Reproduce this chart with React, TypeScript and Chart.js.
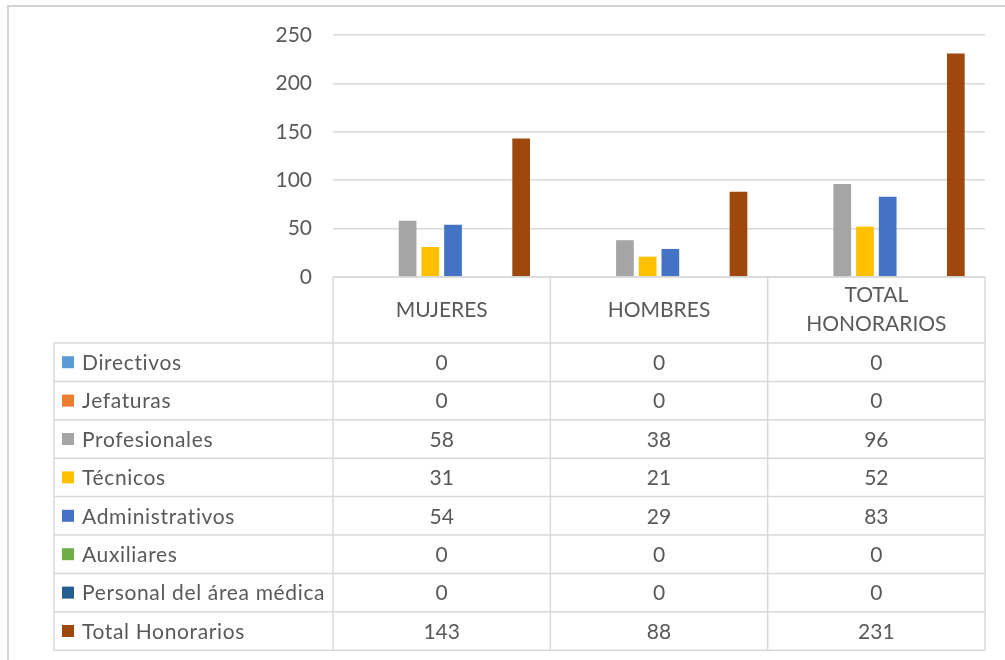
import React, { useEffect, useRef } from "react";
import { Chart, registerables } from "chart.js";

Chart.register(...registerables);

const categories = ["MUJERES", "HOMBRES", "TOTAL HONORARIOS"];
const headerLines = [["MUJERES"], ["HOMBRES"], ["TOTAL", "HONORARIOS"]];
const seriesNames = [
  "Directivos",
  "Jefaturas",
  "Profesionales",
  "Técnicos",
  "Administrativos",
  "Auxiliares",
  "Personal del área médica",
  "Total Honorarios",
];
const directivos = [0, 0, 0];
const jefaturas = [0, 0, 0];
const profesionales = [58, 38, 96];
const tecnicos = [31, 21, 52];
const administrativos = [54, 29, 83];
const auxiliares = [0, 0, 0];
const personalMedico = [0, 0, 0];
const totalHonorarios = [143, 88, 231];
const yTicks = [0, 50, 100, 150, 200, 250];
const seriesColors = [
  "#5B9BD5",
  "#ED7D31",
  "#A5A5A5",
  "#FFC000",
  "#4472C4",
  "#70AD47",
  "#255E91",
  "#9E480E",
];

const FONT = "Lato, 'Open Sans', sans-serif";
const TEXT = "#595959";
const LINE = "#d9d9d9";

const tablePlugin = {
  id: "dataTable",
  beforeDraw(chart: any) {
    const ctx = chart.ctx;
    ctx.save();
    ctx.fillStyle = "#ffffff";
    ctx.fillRect(0, 0, chart.width, chart.height);
    ctx.strokeStyle = "#d4d4d4";
    ctx.lineWidth = 2;
    ctx.beginPath();
    ctx.moveTo(8, chart.height);
    ctx.lineTo(8, 6);
    ctx.lineTo(chart.width, 6);
    ctx.stroke();
    ctx.restore();
  },
  afterDraw(chart: any) {
    const ctx = chart.ctx;
    const area = chart.chartArea;
    const n = categories.length;
    const colW = (area.right - area.left) / n;
    const headerTop = area.bottom;
    const headerBottom = headerTop + 66;
    const rowH = 38.4;
    const tableLeft = 54;
    const rows = chart.data.datasets.length;
    const tableBottom = headerBottom + rows * rowH;

    ctx.save();
    ctx.strokeStyle = LINE;
    ctx.lineWidth = 1.5;
    ctx.beginPath();
    ctx.moveTo(area.left, headerTop);
    ctx.lineTo(area.right, headerTop);
    for (let r = 0; r <= rows; r++) {
      const y = headerBottom + r * rowH;
      ctx.moveTo(tableLeft, y);
      ctx.lineTo(area.right, y);
    }
    for (let c = 0; c <= n; c++) {
      const x = area.left + c * colW;
      ctx.moveTo(x, headerTop);
      ctx.lineTo(x, tableBottom);
    }
    ctx.moveTo(tableLeft, headerBottom);
    ctx.lineTo(tableLeft, tableBottom);
    ctx.stroke();

    ctx.fillStyle = TEXT;
    ctx.font = `21px ${FONT}`;
    ctx.textBaseline = "middle";
    ctx.textAlign = "center";
    const xs = chart.scales.x;
    for (let c = 0; c < n; c++) {
      const cx = xs.getPixelForValue(c);
      const lines = headerLines[c];
      const lh = 29;
      const mid = (headerTop + headerBottom) / 2;
      lines.forEach((t, i) => {
        ctx.fillText(t, cx, mid + (i - (lines.length - 1) / 2) * lh);
      });
    }
    chart.data.datasets.forEach((ds: any, r: number) => {
      const cy = headerBottom + r * rowH + rowH / 2;
      ctx.fillStyle = ds.backgroundColor;
      ctx.fillRect(62, cy - 6, 12, 12);
      ctx.fillStyle = TEXT;
      ctx.textAlign = "left";
      ctx.letterSpacing = "0.65px";
      ctx.fillText(ds.label, 82, cy + 1);
      ctx.letterSpacing = "0px";
      ctx.textAlign = "center";
      ds.data.forEach((v: number, c: number) => {
        ctx.fillText(String(v), xs.getPixelForValue(c), cy + 1);
      });
    });
    ctx.restore();
  },
};

export default function App() {
  const ref = useRef<HTMLCanvasElement>(null);
  useEffect(() => {
    if (!ref.current) return;
    const values = [
      directivos,
      jefaturas,
      profesionales,
      tecnicos,
      administrativos,
      auxiliares,
      personalMedico,
      totalHonorarios,
    ];
    const chart = new Chart(ref.current, {
      type: "bar",
      data: {
        labels: categories,
        datasets: seriesNames.map((name, i) => ({
          label: name,
          data: values[i],
          backgroundColor: seriesColors[i],
          borderWidth: 0,
          barPercentage: 0.78,
          categoryPercentage: 0.836,
        })),
      },
      options: {
        animation: false,
        responsive: true,
        maintainAspectRatio: false,
        layout: { padding: { top: 35, bottom: 383, right: 20, left: 0 } },
        plugins: { legend: { display: false }, tooltip: { enabled: false } },
        scales: {
          x: { display: false },
          y: {
            min: 0,
            max: 250,
            afterBuildTicks: (scale: any) => {
              scale.ticks = yTicks.map((v) => ({ value: v }));
            },
            afterFit: (scale: any) => {
              scale.width = 333;
            },
            border: { display: false },
            grid: { color: LINE, lineWidth: 1.5, drawTicks: false },
            ticks: {
              padding: 21,
              color: TEXT,
              font: { family: FONT, size: 21 },
            },
          },
        },
      },
      plugins: [tablePlugin],
    });
    (document as any).fonts?.load(`21px Lato`).then(() => chart.update());
    return () => chart.destroy();
  }, []);
  return (
    <div style={{ position: "fixed", left: 0, top: 0, width: 1005, height: 660, background: "#fff" }}>
      <canvas ref={ref} />
    </div>
  );
}
